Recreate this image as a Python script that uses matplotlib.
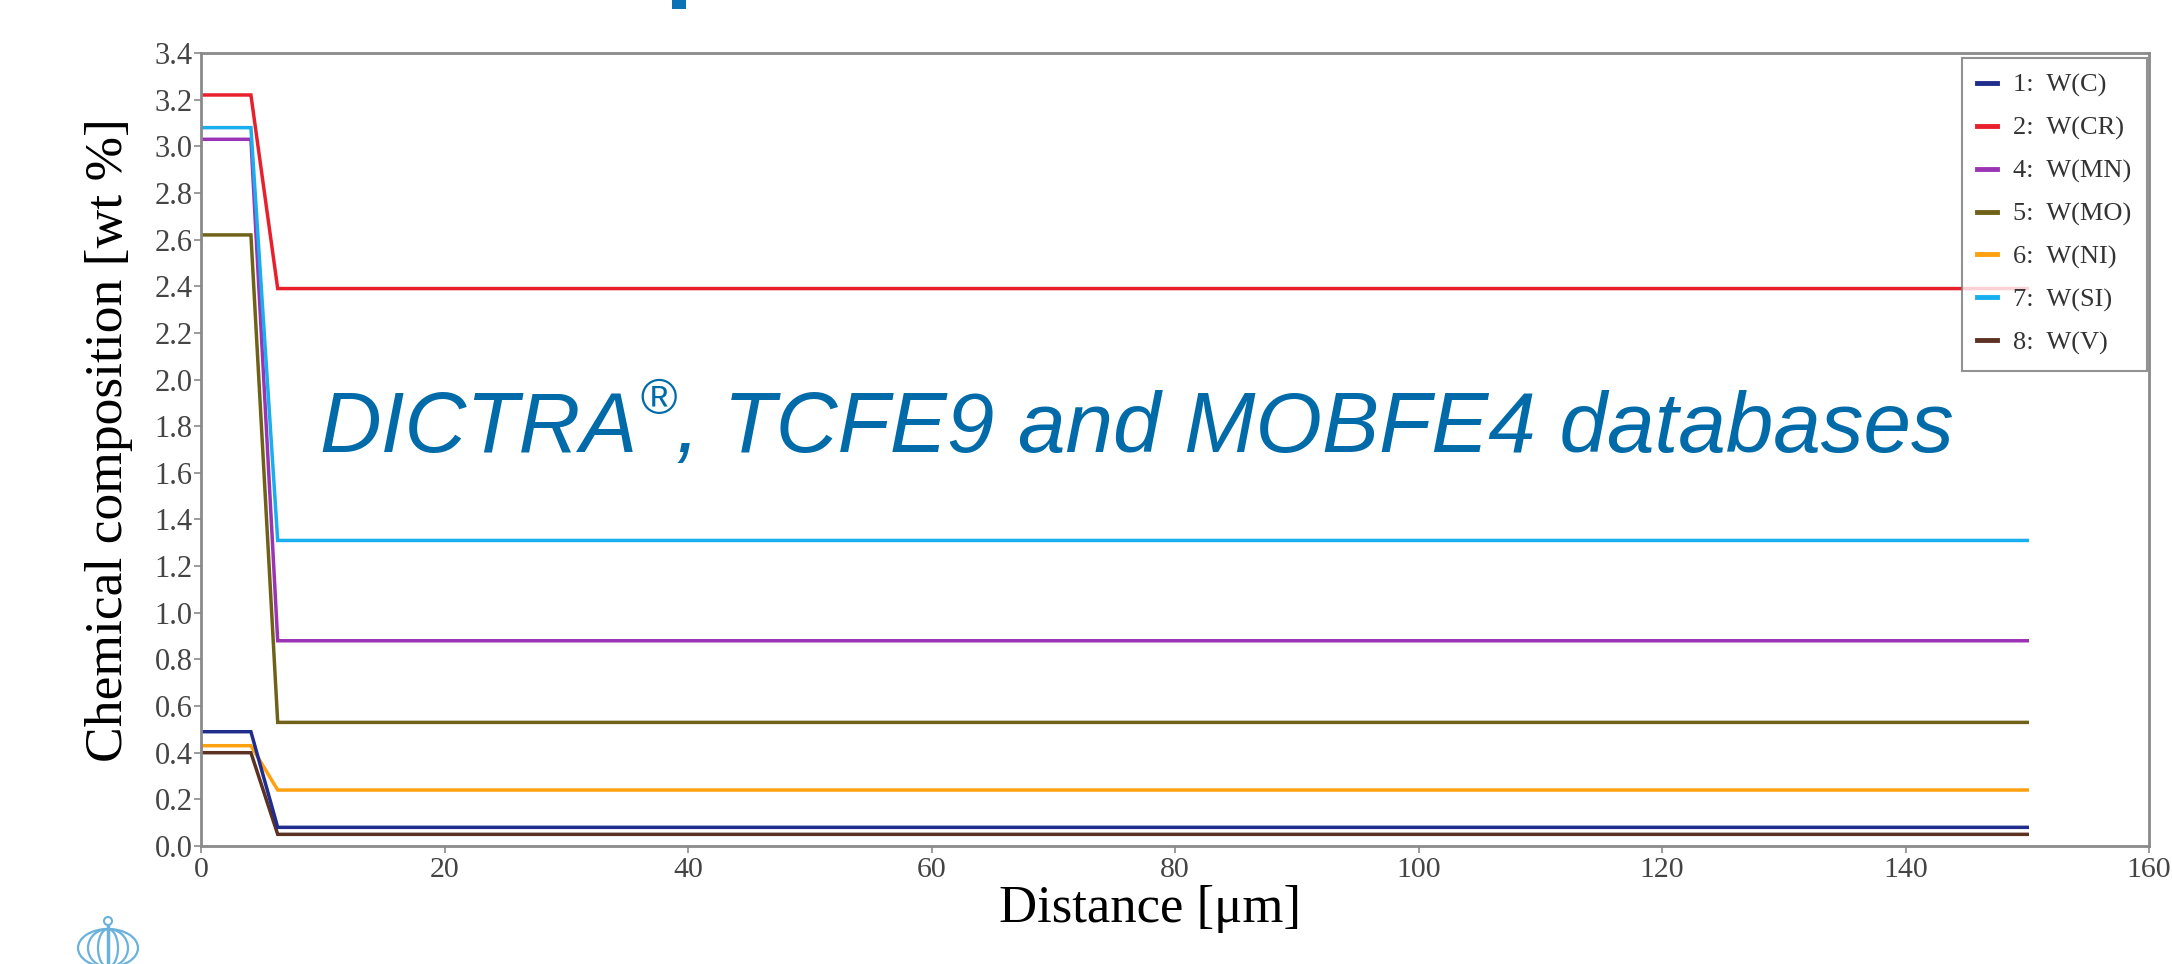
import matplotlib
matplotlib.use("Agg")
import matplotlib.pyplot as plt
from matplotlib.patches import Ellipse, Rectangle, Circle
from matplotlib.lines import Line2D

# ---- data ----
distance = [0, 4.1, 6.3, 150]
w_c  = [0.49, 0.49, 0.08, 0.08]
w_cr = [3.22, 3.22, 2.39, 2.39]
w_mn = [3.03, 3.03, 0.88, 0.88]
w_mo = [2.62, 2.62, 0.53, 0.53]
w_ni = [0.43, 0.43, 0.24, 0.24]
w_si = [3.08, 3.08, 1.31, 1.31]
w_v  = [0.40, 0.40, 0.05, 0.05]
labels = ["1:  W(C)", "2:  W(CR)", "4:  W(MN)", "5:  W(MO)", "6:  W(NI)", "7:  W(SI)", "8:  W(V)"]
colors = ["#1f2d8c", "#e8202c", "#9b34b4", "#6f6218", "#ffa00f", "#19aeee", "#5c3222"]
xticks = [0, 20, 40, 60, 80, 100, 120, 140, 160]
yticks = [0.0, 0.2, 0.4, 0.6, 0.8, 1.0, 1.2, 1.4, 1.6, 1.8, 2.0, 2.2, 2.4, 2.6, 2.8, 3.0, 3.2, 3.4]

W, H = 2172, 964
fig = plt.figure(figsize=(W / 100, H / 100), dpi=100)
ax = fig.add_axes([201 / W, 1 - 846 / H, (2149 - 201) / W, (846 - 53) / H])

series = [w_c, w_cr, w_mn, w_mo, w_ni, w_si, w_v]
order = [1, 3, 2, 5, 4, 6, 0]
handles = [None] * 7
for i in order:
    (h,) = ax.plot(distance, series[i], color=colors[i], lw=2.5, label=labels[i],
                   solid_joinstyle="miter")
    handles[i] = h

ax.set_xlim(0, 160)
ax.set_ylim(0, 3.4)
ax.set_xticks(xticks)
ax.set_yticks(yticks)
ax.set_xticklabels([str(v) for v in xticks])
ax.set_yticklabels([f"{v:.1f}" for v in yticks])

tick_col = "#444444"
spine_col = "#8a8a8a"
for s in ax.spines.values():
    s.set_color(spine_col)
    s.set_linewidth(2.0)
ax.tick_params(axis="both", direction="out", length=5, width=1.2, color=spine_col,
               labelcolor=tick_col, labelsize=22)
ax.tick_params(axis="x", pad=3, labelsize=21.5)
ax.tick_params(axis="y", pad=1)
for lab in ax.get_xticklabels() + ax.get_yticklabels():
    lab.set_fontfamily("Liberation Serif")

ax.set_xlabel("Distance [μm]", fontsize=38, family="Liberation Serif", color="black")
ax.set_ylabel("Chemical composition [wt %]", fontsize=38.5, family="Liberation Serif",
              color="black")
ax.xaxis.set_label_coords(0.487, -0.049)
ax.yaxis.set_label_coords(-0.035, 0.512)

leg = ax.legend(handles=handles, loc="upper right", bbox_to_anchor=(0.999, 0.994),
                prop={"family": "Liberation Serif", "size": 19}, frameon=True, fancybox=False,
                edgecolor="#777777", handlelength=0.75, handletextpad=0.6,
                labelspacing=0.72, borderpad=0.6, borderaxespad=0.0)
leg.get_frame().set_linewidth(1.5)
for t in leg.get_texts():
    t.set_color("#333333")
for l in leg.get_lines():
    l.set_linewidth(3.5)

# overlay text with registered mark
blue = "#006ba8"
fig.canvas.draw()
r = fig.canvas.get_renderer()
t1 = fig.text(319 / W, 1 - 452 / H, "DICTRA", fontsize=61.6, style="italic",
              family="Liberation Sans", color=blue, va="baseline", ha="left")
bb = t1.get_window_extent(renderer=r)
t2 = fig.text(bb.x1 / W + 2 / W, 1 - 452 / H + 38 / H, "®", fontsize=36, style="italic",
              family="Liberation Sans", color=blue, va="baseline", ha="left")
bb2 = t2.get_window_extent(renderer=r)
fig.text(bb2.x1 / W, 1 - 452 / H, ", TCFE9 and MOBFE4 databases", fontsize=61.6, style="italic",
         family="Liberation Sans", color=blue, va="baseline", ha="left")

# fragment of cut-off title at top
fig.patches.append(Rectangle((672 / W, 1 - 9 / H), 14 / W, 9 / H, transform=fig.transFigure,
                             facecolor="#0b72b5", edgecolor="none"))

# logo at bottom-left (pixel coords)
logo_col = "#6ab2dc"
cx, cy = 108, H - 948
for wdt in (60, 40, 20):
    fig.patches.append(Ellipse((cx, cy), wdt, 38, transform=None, fill=False,
                               edgecolor=logo_col, lw=1.6))
fig.lines.append(Line2D([cx, cx], [cy - 20, cy + 22], transform=None, color=logo_col, lw=2.5))
fig.patches.append(Circle((cx, cy + 27), 4, transform=None, fill=False, edgecolor=logo_col, lw=1.5))

fig.savefig("out.png", dpi=100, facecolor="white")
